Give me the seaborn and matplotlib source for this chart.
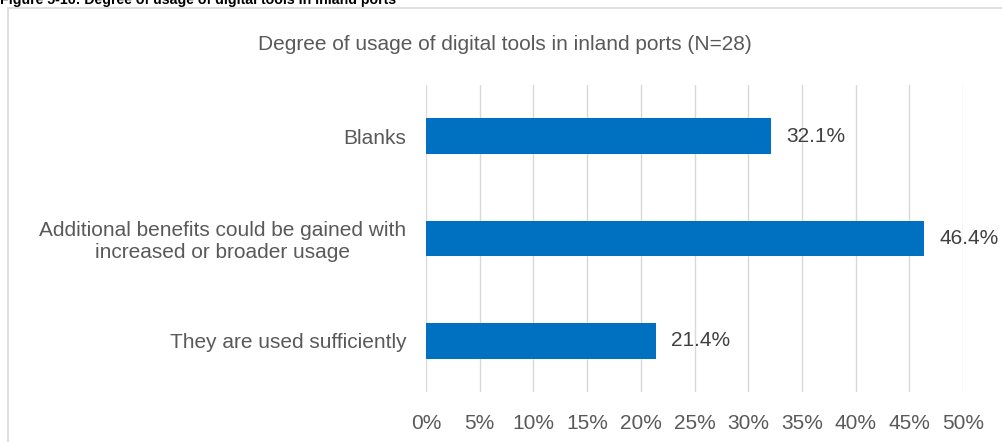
import matplotlib
matplotlib.use("Agg")
import matplotlib.pyplot as plt
from matplotlib.patches import Rectangle
from matplotlib.ticker import FuncFormatter, MultipleLocator
import seaborn as sns
import pandas as pd

categories = [
    "Blanks",
    "Additional benefits could be gained with\nincreased or broader usage",
    "They are used sufficiently",
]
shares = [32.1, 46.4, 21.4]

caption = "Figure 5-16: Degree of usage of digital tools in inland ports"
title = "Degree of usage of digital tools in inland ports (N=28)"

sns.set_theme(style="white")
plt.rcParams["font.family"] = ["Liberation Sans", "DejaVu Sans"]

df = pd.DataFrame({"category": categories, "share": shares})

fig = plt.figure(figsize=(10.02, 4.42), dpi=100)
ax = fig.add_axes([426 / 1002, 1 - 392 / 442, (963 - 426) / 1002, (392 - 85) / 442])

sns.barplot(data=df, x="share", y="category", orient="h", color="#0070C0",
            saturation=1, width=0.35, ax=ax, edgecolor="none")

ax.set_xlim(0, 50)
ax.set_ylim(2.5, -0.5)
ax.xaxis.set_major_locator(MultipleLocator(5))
ax.xaxis.set_major_formatter(FuncFormatter(lambda v, p: f"{v:.0f}%"))
ax.grid(axis="x", color="#D9D9D9", linewidth=1.0)
ax.set_axisbelow(True)
for s in ax.spines.values():
    s.set_visible(False)
ax.set_xlabel("")
ax.set_ylabel("")
ax.tick_params(axis="x", length=0, pad=16, labelsize=15, labelcolor="#595959")
ax.tick_params(axis="y", length=0, pad=14, labelsize=15, labelcolor="#595959")
for lbl in ax.get_yticklabels():
    lbl.set_multialignment("center")
    lbl.set_linespacing(1.15)

for i, v in enumerate(shares):
    ax.text(v + 1.4, i, f"{v:.1f}%", va="center", ha="left",
            fontsize=15, color="#404040")

fig.text(505 / 1002, 1 - 44 / 442, title, ha="center", va="center",
         fontsize=15, color="#595959")
fig.text(0, 1 - 4 / 442, caption, ha="left", va="baseline", fontsize=10.2,
         fontweight="bold", color="black")

fig.patches.append(Rectangle((8 / 1002, -0.1), 1.2, 1 - 8 / 442 + 0.1,
                             transform=fig.transFigure, fill=False,
                             edgecolor="#D9D9D9", linewidth=1.2))

fig.savefig("out.png", dpi=100)
